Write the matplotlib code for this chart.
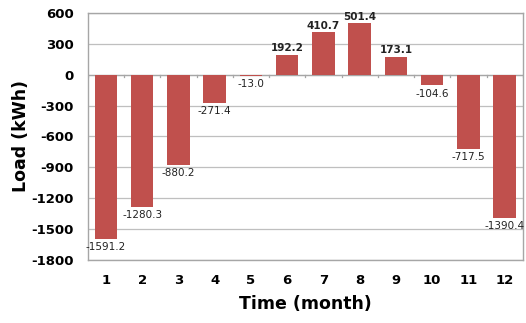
import numpy as np
import matplotlib.pyplot as plt

months = [1, 2, 3, 4, 5, 6, 7, 8, 9, 10, 11, 12]
load = [-1591.2, -1280.3, -880.2, -271.4, -13.0, 192.2, 410.7, 501.4, 173.1, -104.6, -717.5, -1390.4]
yticks = [600, 300, 0, -300, -600, -900, -1200, -1500, -1800]

plt.rcParams['font.family'] = ['DejaVu Sans']
plt.rcParams['axes.unicode_minus'] = False

fig = plt.figure(figsize=(5.26, 3.23), dpi=100)
ax = fig.add_axes([0.167, 0.195, 0.827, 0.765])

bar_color = '#C0504D'
ax.bar(months, load, width=0.62, color=bar_color, zorder=3)

# value labels
for m, v in zip(months, load):
    if v >= 0:
        ax.text(m, v + 15, f'{v:.1f}', ha='center', va='bottom', fontsize=7.5, fontweight='bold', color='#222222')
    else:
        ax.text(m, v - 30, f'{v:.1f}', ha='center', va='top', fontsize=7.5, color='#222222')

ax.set_xlim(0.5, 12.5)
ax.set_ylim(-1800, 600)
ax.set_yticks(yticks)
ax.set_xticks(months)
ax.tick_params(axis='both', length=0, labelsize=9.5)
ax.tick_params(axis='x', pad=10)
ax.tick_params(axis='y', pad=10)
for lbl in ax.get_xticklabels() + ax.get_yticklabels():
    lbl.set_fontweight('bold')

ax.grid(axis='y', color='#BFBFBF', linewidth=0.9, zorder=0)
for s in ax.spines.values():
    s.set_color('#A6A6A6')
    s.set_linewidth(1.0)

# category separator ticks on the zero line
ax.axhline(0, color='#A6A6A6', linewidth=0.9, zorder=2)
for x in np.arange(0.5, 13, 1.0):
    ax.plot([x, x], [0, -25], color='#A6A6A6', linewidth=0.9, zorder=2)

ax.set_xlabel('Time (month)', fontsize=12.5, fontweight='bold', labelpad=6)
ax.set_ylabel('Load (kWh)', fontsize=12.5, fontweight='bold', labelpad=1)

fig.savefig('out.png', dpi=100)
